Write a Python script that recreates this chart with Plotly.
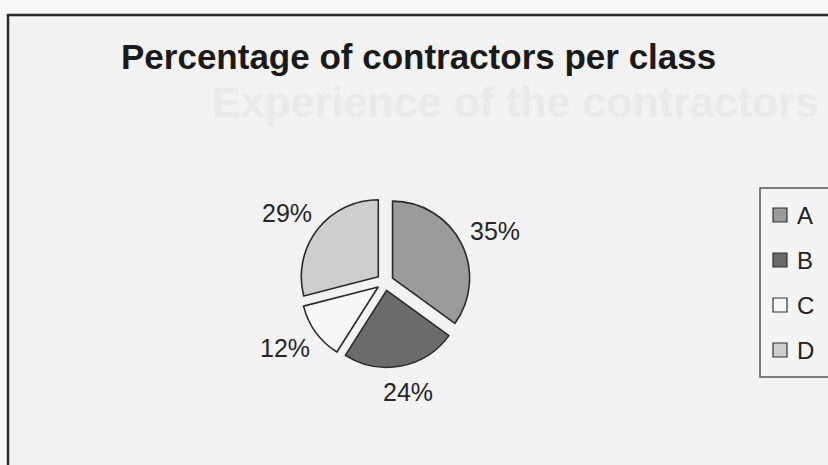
import math
import plotly.graph_objects as go

# ---- data ----
classes = ["A", "B", "C", "D"]
shares = [35, 24, 12, 29]
slice_colors = ["#9b9b9b", "#6b6b6b", "#f7f7f7", "#cecece"]
title_text = "Percentage of contractors per class"
ghost_title = "Experience of the contractors"

W, H = 828, 465


def px(x):
    return x / W


def py(y):
    return 1 - y / H


# pie placement (pixels)
CX, CY, HALF = 385, 282, 85.5
LABEL_R = 118

fig = go.Figure(
    go.Pie(
        labels=classes,
        values=shares,
        sort=False,
        direction="clockwise",
        rotation=0,
        marker=dict(colors=slice_colors, line=dict(color="#2a2a2a", width=1.6)),
        pull=[0.11] * len(classes),
        textinfo="none",
        domain=dict(x=[px(CX - HALF), px(CX + HALF)], y=[py(CY + HALF), py(CY - HALF)]),
        showlegend=False,
        hoverinfo="label+percent",
    )
)

shapes = []
annotations = []

# chart frame (scanned page, continues past the right and bottom edges)
shapes.append(dict(type="rect", xref="paper", yref="paper",
                   x0=px(8), x1=px(900), y0=py(520), y1=py(15),
                   line=dict(color="#2b2b2b", width=2.5), fillcolor="#f2f2f2",
                   layer="below"))

# faint bleed-through text from the other side of the page
annotations.append(dict(text="<b>" + ghost_title + "</b>", xref="paper", yref="paper",
                        x=px(210), y=py(102), xanchor="left", yanchor="middle",
                        showarrow=False,
                        font=dict(size=43, color="#eaeaea", family="Liberation Sans")))

# title
annotations.append(dict(text="<b>" + title_text + "</b>", xref="paper", yref="paper",
                        x=px(119), y=py(56), xanchor="left", yanchor="middle",
                        showarrow=False,
                        font=dict(size=35, color="#1a1a1a", family="Liberation Sans")))

# percentage labels outside each slice, at the slice's mid-angle
total = sum(shares)
cum = 0
for v in shares:
    mid = (cum + v / 2) / total * 2 * math.pi
    cum += v
    lx = CX + LABEL_R * math.sin(mid) * 1.05
    ly = CY - LABEL_R * math.cos(mid) * 0.95
    annotations.append(dict(text=f"{round(100 * v / total)}%", xref="paper", yref="paper",
                            x=px(lx), y=py(ly), xanchor="center", yanchor="middle",
                            showarrow=False,
                            font=dict(size=25, color="#262626", family="Liberation Sans")))

# legend box
shapes.append(dict(type="rect", xref="paper", yref="paper",
                   x0=px(760), x1=px(860), y0=py(377), y1=py(188),
                   line=dict(color="#555555", width=1.5), fillcolor="#f4f4f4"))
for i, (name, col) in enumerate(zip(classes, slice_colors)):
    yc = 215 + 45 * i
    shapes.append(dict(type="rect", xref="paper", yref="paper",
                       x0=px(773), x1=px(787), y0=py(yc + 7), y1=py(yc - 7),
                       line=dict(color="#333333", width=1.2), fillcolor=col))
    annotations.append(dict(text=name, xref="paper", yref="paper",
                            x=px(795), y=py(yc), xanchor="left", yanchor="middle",
                            showarrow=False,
                            font=dict(size=24, color="#222222", family="Liberation Sans")))

fig.update_layout(
    width=W, height=H,
    margin=dict(l=0, r=0, t=0, b=0),
    paper_bgcolor="#f8f8f8",
    plot_bgcolor="#f8f8f8",
    shapes=shapes,
    annotations=annotations,
)

fig.write_html("out.html")
